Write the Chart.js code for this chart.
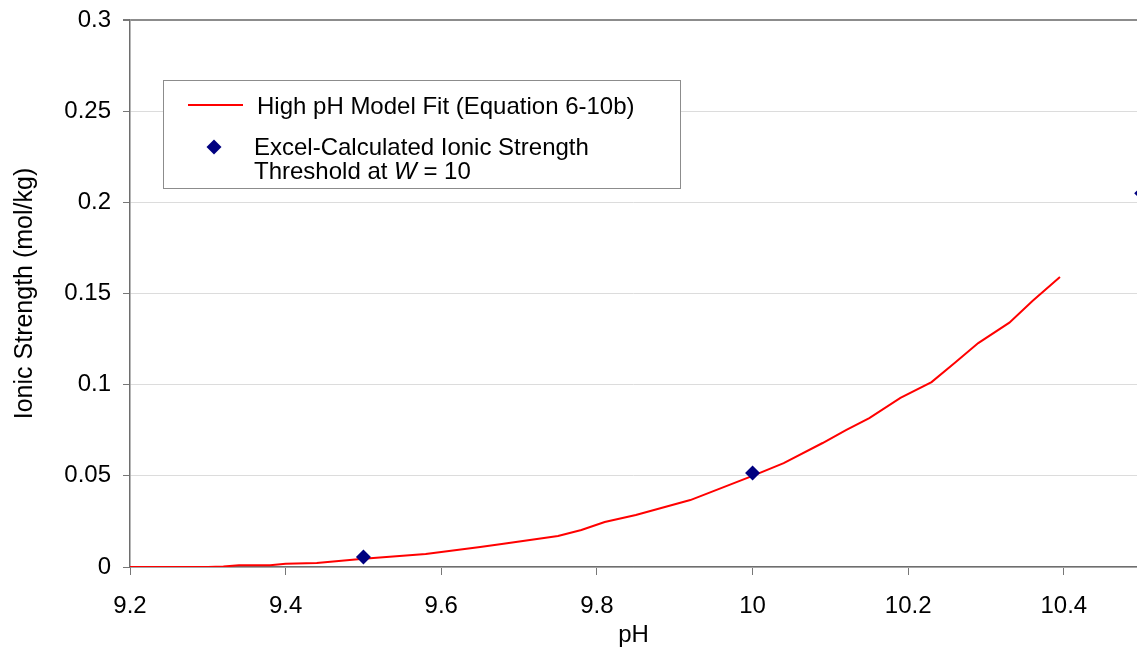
<!DOCTYPE html>
<html>
<head>
<meta charset="utf-8">
<title>Ionic Strength vs pH</title>
<script src="https://cdn.jsdelivr.net/npm/chart.js@4.4.1/dist/chart.umd.min.js"></script>
<style>
  html, body { margin: 0; padding: 0; background: #fff; }
  #wrap { width: 1137px; height: 660px; }
</style>
</head>
<body>
<div id="wrap"><canvas id="ionicChart" width="1137" height="660"></canvas></div>
<script>
// High pH model fit (Equation 6-10b)
const fitPH = [9.2, 9.3, 9.32, 9.34, 9.38, 9.4, 9.44, 9.5, 9.58, 9.65, 9.68, 9.75, 9.78, 9.81, 9.85, 9.92,
               10.0, 10.04, 10.09, 10.12, 10.15, 10.19, 10.23, 10.26, 10.29, 10.33, 10.36, 10.395];
const fitIonic = [0, 0, 0.0003, 0.001, 0.001, 0.0018, 0.0022, 0.0045, 0.0071, 0.011, 0.0128, 0.017, 0.0203, 0.0247, 0.0285, 0.0367,
                  0.050, 0.057, 0.068, 0.0751, 0.0817, 0.0927, 0.1014, 0.112, 0.1228, 0.134, 0.146, 0.159];

// Thresholds computed in Excel
const excelPH = [9.5, 10.0, 10.5];
const excelIonic = [0.0055, 0.0515, 0.205];

// Axis ticks
const xTicks = [9.2, 9.4, 9.6, 9.8, 10, 10.2, 10.4];
const yTicks = [0, 0.05, 0.1, 0.15, 0.2, 0.25, 0.3];

const fitLabel = 'High pH Model Fit (Equation 6-10b)';
// second legend entry: lines made of text runs, W in italics
const excelLabel = [
    [{ text: 'Excel-Calculated Ionic Strength' }],
    [{ text: 'Threshold at ' }, { text: 'W', italic: true }, { text: ' = 10' }]
];

const FONT = '"Liberation Sans", Arial, sans-serif';
Chart.defaults.font.family = FONT;
Chart.defaults.font.size = 24;
Chart.defaults.color = '#000';

const toPoints = (xs, ys) => xs.map((x, i) => ({ x: x, y: ys[i] }));

// Boxed legend drawn over the plot area
const boxLegend = {
    id: 'boxLegend',
    afterDraw(chart) {
        const ctx = chart.ctx;
        const fit = chart.data.datasets[1];
        const excel = chart.data.datasets[0];
        ctx.save();
        ctx.fillStyle = '#fff';
        ctx.fillRect(163.5, 80.5, 517, 108);
        ctx.strokeStyle = '#8c8c8c';
        ctx.lineWidth = 1;
        ctx.strokeRect(163.5, 80.5, 517, 108);

        // line swatch
        ctx.strokeStyle = fit.borderColor;
        ctx.lineWidth = fit.borderWidth;
        ctx.beginPath();
        ctx.moveTo(188, 105);
        ctx.lineTo(243, 105);
        ctx.stroke();

        // diamond swatch
        const r = excel.pointRadius;
        ctx.fillStyle = excel.pointBackgroundColor;
        ctx.beginPath();
        ctx.moveTo(214, 147 - r);
        ctx.lineTo(214 + r, 147);
        ctx.lineTo(214, 147 + r);
        ctx.lineTo(214 - r, 147);
        ctx.closePath();
        ctx.fill();

        ctx.fillStyle = '#000';
        ctx.textBaseline = 'alphabetic';
        ctx.textAlign = 'left';
        ctx.font = '24px ' + FONT;
        ctx.fillText(fitLabel, 257, 114);

        excelLabel.forEach((runs, i) => {
            let x = 254;
            const y = 155 + i * 24;
            runs.forEach(run => {
                ctx.font = (run.italic ? 'italic ' : '') + '24px ' + FONT;
                ctx.fillText(run.text, x, y);
                x += ctx.measureText(run.text).width;
            });
        });
        ctx.restore();
    }
};

const ctx = document.getElementById('ionicChart').getContext('2d');
new Chart(ctx, {
    type: 'scatter',
    data: {
        datasets: [{
            label: 'Excel-Calculated Ionic Strength Threshold at W = 10',
            data: toPoints(excelPH, excelIonic),
            pointStyle: 'rectRot',
            pointRadius: 7.5,
            pointBackgroundColor: '#000080',
            pointBorderWidth: 0,
            showLine: false,
            order: 0
        }, {
            label: fitLabel,
            data: toPoints(fitPH, fitIonic),
            showLine: true,
            borderColor: '#ff0000',
            borderWidth: 2,
            pointRadius: 0,
            tension: 0,
            order: 1
        }]
    },
    options: {
        responsive: false,
        animation: false,
        layout: {
            autoPadding: false,
            padding: { top: 20, right: 0, bottom: 0, left: 0 }
        },
        plugins: {
            legend: { display: false },
            tooltip: { enabled: false }
        },
        scales: {
            x: {
                type: 'linear',
                min: 9.2,
                max: 10.494,
                afterBuildTicks: scale => { scale.ticks = xTicks.map(v => ({ value: v })); },
                afterFit: scale => {
                    scale.height = 93;
                    scale.paddingLeft = 0;
                    scale.paddingRight = 0;
                },
                ticks: {
                    padding: 17,
                    maxRotation: 0,
                    callback: v => String(+v.toFixed(1))
                },
                grid: {
                    drawOnChartArea: false,
                    tickLength: 8,
                    tickColor: '#777'
                },
                border: { color: '#6e6e6e', width: 1.5 },
                title: {
                    display: true,
                    text: 'pH',
                    padding: { top: 0, bottom: 10 }
                }
            },
            y: {
                min: 0,
                max: 0.3,
                afterBuildTicks: scale => { scale.ticks = yTicks.map(v => ({ value: v })); },
                afterFit: scale => {
                    scale.width = 130;
                    scale.paddingTop = 0;
                    scale.paddingBottom = 0;
                },
                ticks: {
                    padding: 12,
                    callback: v => String(+v.toFixed(2))
                },
                grid: {
                    // top edge of the plot gets a darker frame line
                    color: c => Math.abs(c.tick.value - 0.3) < 1e-9 ? '#8c8c8c' : '#dcdcdc',
                    lineWidth: c => Math.abs(c.tick.value - 0.3) < 1e-9 ? 2 : 1,
                    tickLength: 7,
                    tickColor: '#777'
                },
                border: { color: '#6e6e6e', width: 1.5 },
                title: {
                    display: true,
                    text: 'Ionic Strength (mol/kg)',
                    font: { size: 25 },
                    padding: { top: 10, bottom: 0 }
                }
            }
        }
    },
    plugins: [boxLegend]
});
</script>
</body>
</html>
